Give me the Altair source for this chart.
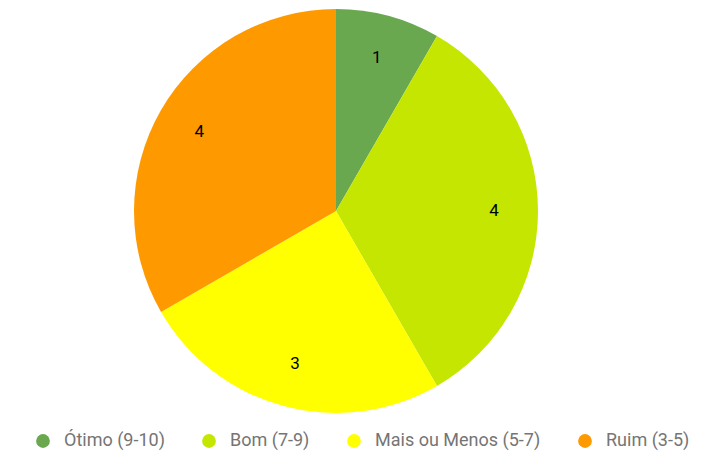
import altair as alt
import pandas as pd

categories = ["Ótimo (9-10)", "Bom (7-9)", "Mais ou Menos (5-7)", "Ruim (3-5)"]
values = [1, 4, 3, 4]
colors = ["#6aa84f", "#c5e600", "#ffff00", "#ff9900"]

df = pd.DataFrame({"cat": categories, "val": values, "ord": list(range(len(categories)))})

base = alt.Chart(df).encode(
    theta=alt.Theta("val:Q", stack=True),
    order=alt.Order("ord:Q"),
    x=alt.value(328),
    y=alt.value(203),
)

pie = base.mark_arc(radius=202, stroke=None, strokeWidth=0).encode(
    color=alt.Color(
        "cat:N",
        scale=alt.Scale(domain=categories, range=colors),
        sort=categories,
        legend=alt.Legend(
            title=None,
            orient="none",
            legendX=26,
            legendY=424,
            direction="horizontal",
            symbolType="circle",
            symbolSize=190,
            symbolStrokeWidth=0,
            labelFontSize=18,
            labelFont="Roboto",
            labelColor="#757575",
            labelOffset=12,
            labelLimit=400,
            columnPadding=35,
        ),
    )
)

text = base.mark_text(radius=158, fontSize=17, font="Roboto", color="black").encode(
    text="val:Q"
)

chart = (
    alt.layer(pie, text)
    .properties(width=688, height=443, autosize=alt.AutoSizeParams(type="none"), padding=0)
    .configure_view(stroke=None)
)

chart.save("out.html", embed_options={"renderer": "svg", "actions": False})
